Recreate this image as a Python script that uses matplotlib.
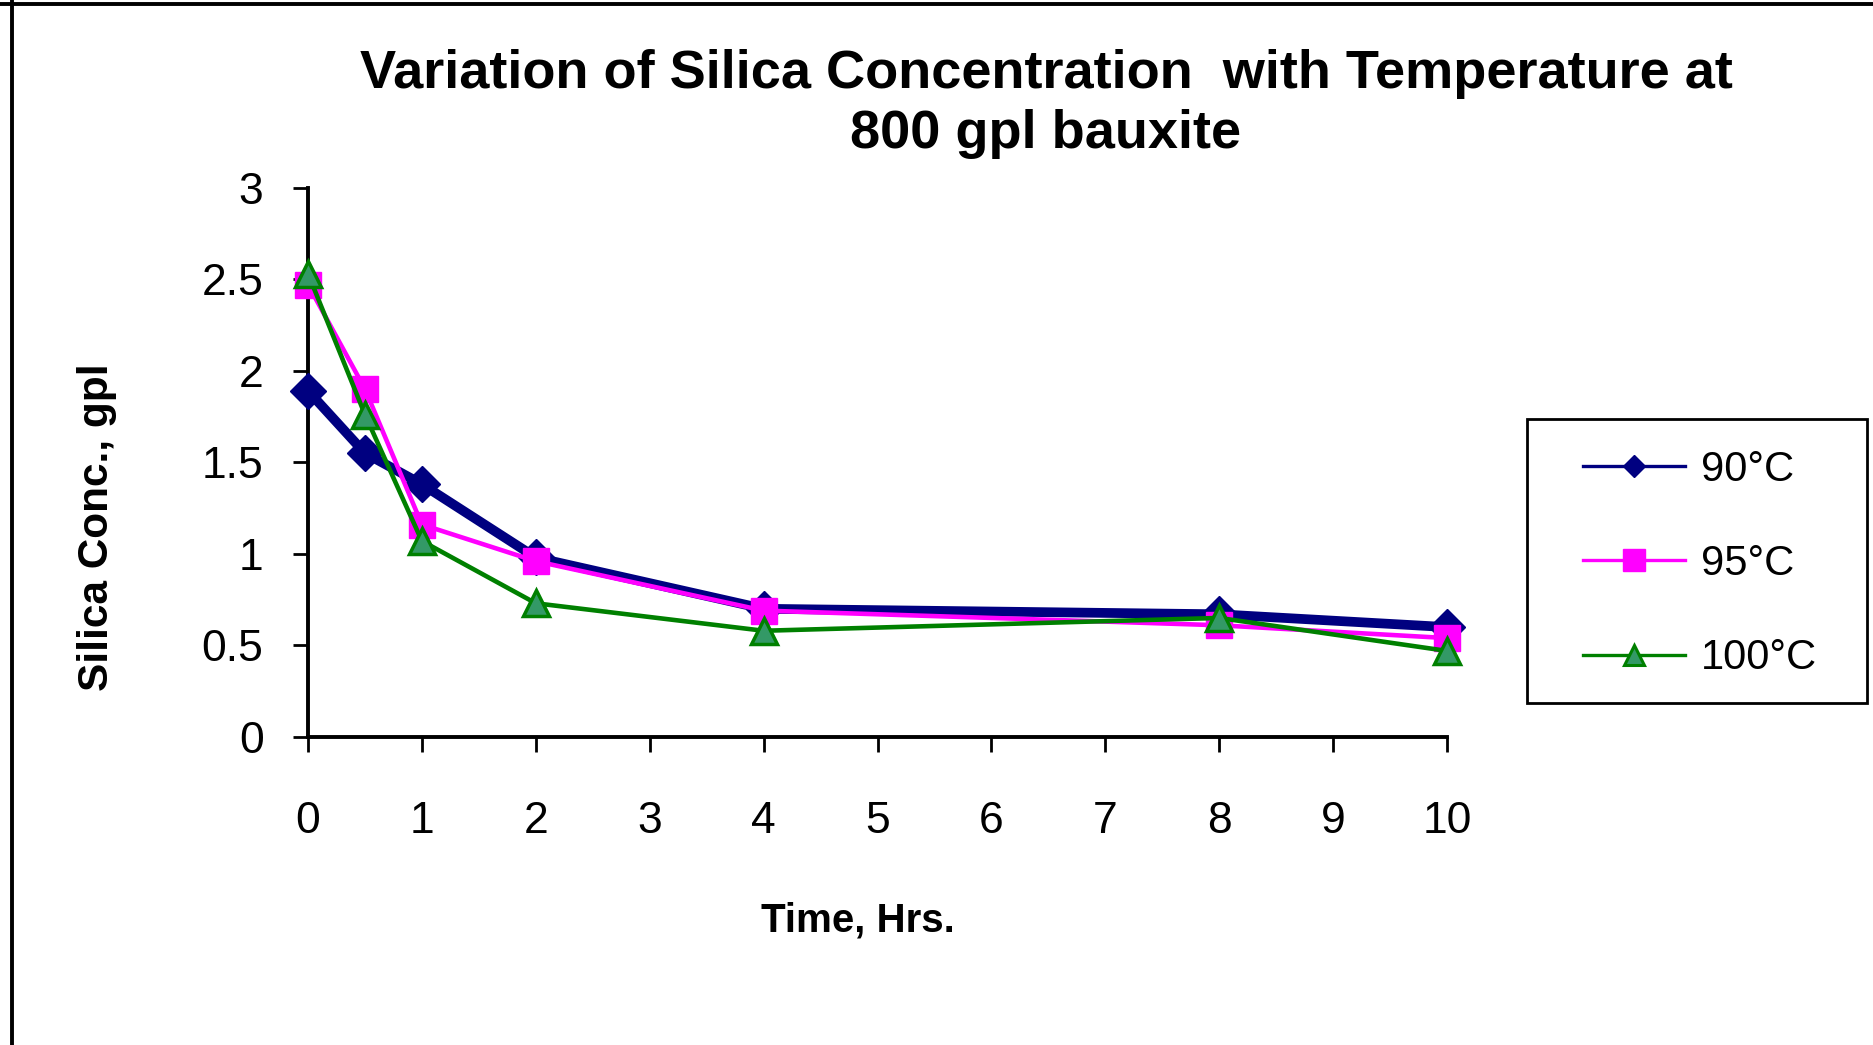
import matplotlib
matplotlib.use("Agg")
import matplotlib.pyplot as plt
from matplotlib.lines import Line2D
from matplotlib.patches import Rectangle

plt.rcParams['font.family'] = ['Liberation Sans', 'DejaVu Sans']

# data
time_hrs = [0, 0.5, 1, 2, 4, 8, 10]
conc_90 = [1.89, 1.55, 1.38, 0.98, 0.70, 0.67, 0.60]
conc_95 = [2.47, 1.90, 1.16, 0.96, 0.69, 0.61, 0.54]
conc_100 = [2.53, 1.76, 1.07, 0.73, 0.58, 0.65, 0.47]
labels = ['90°C', '95°C', '100°C']
x_ticks = list(range(0, 11))
y_ticks = [0, 0.5, 1, 1.5, 2, 2.5, 3]

W, H = 1873, 1045
fig = plt.figure(figsize=(W / 100, H / 100), dpi=100)
ax = fig.add_axes([308 / W, 1 - 737 / H, (1447 - 308) / W, (737 - 187.5) / H])

ax.plot(time_hrs, conc_90, color='#000080', lw=7, marker='D', ms=18.5,
        mfc='#000080', mec='#000080', mew=1, clip_on=False, zorder=3)
ax.plot(time_hrs, conc_95, color='#FF00FF', lw=3.3, marker='s', ms=18.5,
        mfc='#FF00FF', mec='#FF00FF', mew=1, clip_on=False, zorder=4)
ax.plot(time_hrs, conc_100, color='#008000', lw=3.3, marker='^', ms=19,
        mfc='#339966', mec='#008000', mew=2.5, clip_on=False, zorder=5)

ax.set_xlim(0, 10)
ax.set_ylim(0, 3)
ax.set_xticks(x_ticks)
ax.set_yticks(y_ticks)
ax.set_yticklabels([f'{v:g}' for v in y_ticks])

for s in ['top', 'right']:
    ax.spines[s].set_visible(False)
for s in ['left', 'bottom']:
    ax.spines[s].set_linewidth(2.8)
ax.tick_params(axis='both', direction='out', length=11, width=2, labelsize=32)
ax.tick_params(axis='y', pad=21)
ax.tick_params(axis='x', pad=35)

fig.text(1046 / W, 1 - 104 / H, 'Variation of Silica Concentration  with Temperature at\n800 gpl bauxite',
         ha='center', va='center', fontsize=39, fontweight='bold', linespacing=1.28)
fig.text(97 / W, 1 - 527 / H, 'Silica Conc., gpl', rotation=90, ha='center', va='center',
         fontsize=30.5, fontweight='bold')
fig.text(858 / W, 1 - 920 / H, 'Time, Hrs.', ha='center', va='center',
         fontsize=29, fontweight='bold')

# legend box
fig.add_artist(Rectangle((1527 / W, 1 - 703 / H), 340 / W, 284 / H, transform=fig.transFigure,
                         facecolor='white', edgecolor='black', lw=2))
handles = [
    Line2D([], [], color='#000080', lw=2.4, marker='D', ms=11.5, mfc='#000080', mec='#000080'),
    Line2D([], [], color='#FF00FF', lw=2.4, marker='s', ms=16, mfc='#FF00FF', mec='#FF00FF'),
    Line2D([], [], color='#008000', lw=2.4, marker='^', ms=14, mfc='#339966', mec='#008000', mew=2.2),
]
leg = fig.legend(handles, labels, loc='center', bbox_to_anchor=(1700 / W, 1 - 564 / H),
                 fontsize=30, frameon=False, handlelength=2.45, handletextpad=0.4,
                 labelspacing=1.3, borderpad=0)
leg.set_zorder(5)

# outer chart frame (top and left edges visible)
fig.add_artist(Line2D([0, 1], [1 - 4 / H, 1 - 4 / H], color='black', lw=2.8, transform=fig.transFigure))
fig.add_artist(Line2D([12 / W, 12 / W], [0, 1], color='black', lw=2.8, transform=fig.transFigure))

fig.savefig('out.png', dpi=100)
